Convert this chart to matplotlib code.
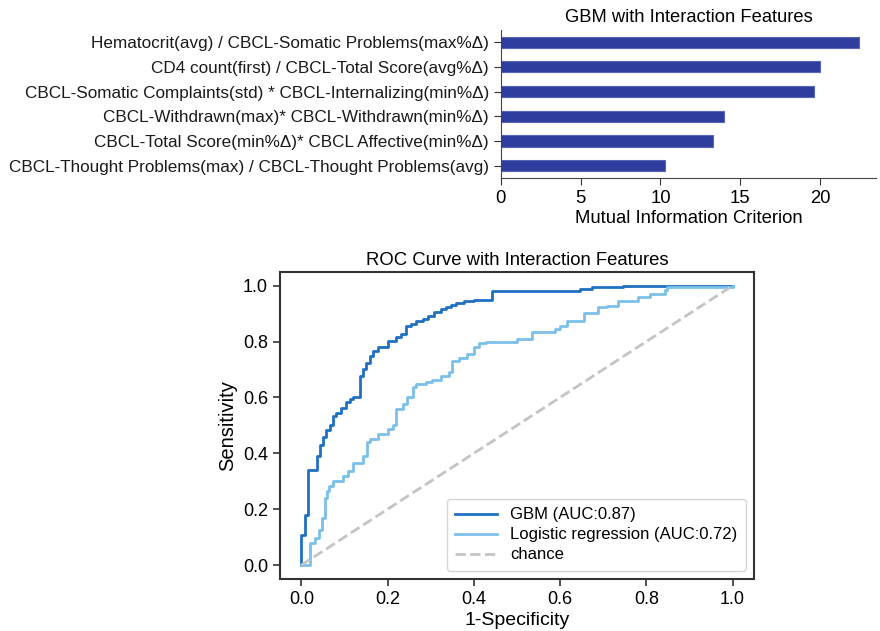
import matplotlib.pyplot as plt

plt.rcParams['font.family'] = ['Liberation Sans', 'DejaVu Sans']

# ---- top panel: mutual information of interaction features
features = [
    "Hematocrit(avg) / CBCL-Somatic Problems(max%\u0394)",
    "CD4 count(first) / CBCL-Total Score(avg%\u0394)",
    "CBCL-Somatic Complaints(std) * CBCL-Internalizing(min%\u0394)",
    "CBCL-Withdrawn(max)* CBCL-Withdrawn(min%\u0394)",
    "CBCL-Total Score(min%\u0394)* CBCL Affective(min%\u0394)",
    "CBCL-Thought Problems(max) / CBCL-Thought Problems(avg)",
]
mi_values = [22.4, 20.0, 19.6, 14.0, 13.3, 10.3]

# ---- bottom panel: ROC curves (step corners)
gbm_fpr = [0, 0, 0.008, 0.015, 0.037, 0.042, 0.050, 0.058, 0.066, 0.073, 0.081,
           0.092, 0.104, 0.112, 0.120, 0.135, 0.143, 0.150, 0.158, 0.166, 0.177,
           0.200, 0.220, 0.231, 0.243, 0.254, 0.266, 0.281, 0.293, 0.308, 0.323,
           0.335, 0.346, 0.358, 0.377, 0.400, 0.443, 0.645, 0.675, 0.745, 1.0]
gbm_tpr = [0, 0.106, 0.18, 0.34, 0.389, 0.43, 0.46, 0.485, 0.50, 0.534, 0.546,
           0.563, 0.582, 0.594, 0.60, 0.678, 0.70, 0.725, 0.749, 0.767, 0.779,
           0.803, 0.815, 0.827, 0.855, 0.863, 0.872, 0.881, 0.893, 0.905, 0.915,
           0.924, 0.93, 0.938, 0.945, 0.95, 0.98, 0.988, 0.995, 1.0, 1.0]

lr_fpr = [0, 0.019, 0.031, 0.040, 0.048, 0.054, 0.060, 0.065, 0.073, 0.096, 0.108,
          0.119, 0.142, 0.152, 0.158, 0.177, 0.200, 0.212, 0.219, 0.235, 0.246,
          0.258, 0.266, 0.289, 0.304, 0.323, 0.343, 0.350, 0.366, 0.385, 0.400,
          0.412, 0.427, 0.500, 0.535, 0.589, 0.600, 0.616, 0.656, 0.689, 0.708,
          0.735, 0.781, 0.808, 0.843, 0.848, 1.0]
lr_tpr = [0, 0.079, 0.096, 0.126, 0.168, 0.24, 0.264, 0.282, 0.30, 0.318, 0.336,
          0.366, 0.39, 0.44, 0.45, 0.468, 0.486, 0.50, 0.558, 0.576, 0.60,
          0.636, 0.647, 0.656, 0.663, 0.675, 0.69, 0.731, 0.74, 0.755, 0.779,
          0.795, 0.80, 0.809, 0.833, 0.845, 0.857, 0.875, 0.902, 0.923, 0.929,
          0.945, 0.959, 0.971, 0.983, 0.995, 1.0]

labels = ["GBM (AUC:0.87)", "Logistic regression (AUC:0.72)", "chance"]

fig = plt.figure(figsize=(8.8, 6.31), dpi=100)

# ----------------- bar chart -----------------
ax = fig.add_axes([0.569, 0.718, 0.427, 0.2345])
ypos = list(range(len(features)))[::-1]
ax.barh(ypos, mi_values, height=0.45, color='#2f3d9e', edgecolor='#5864b8', linewidth=0.8)
ax.set_yticks(ypos)
ax.set_yticklabels(features, fontsize=12.3, color='#1a1a1a')
ax.set_xticks([0, 5, 10, 15, 20])
ax.tick_params(axis='x', labelsize=13.3, length=5, color='#333333')
ax.tick_params(axis='y', length=5, color='#333333')
ax.set_xlabel("Mutual Information Criterion", fontsize=13.3, labelpad=2)
ax.set_title("GBM with Interaction Features", fontsize=13.2, pad=6)
ax.spines['top'].set_visible(False)
ax.spines['right'].set_visible(False)
for s in ['left', 'bottom']:
    ax.spines[s].set_color('#444444')

# ----------------- ROC curve -----------------
ax1 = fig.add_axes([0.318, 0.0824, 0.539, 0.487])
ax1.plot(gbm_fpr, gbm_tpr, drawstyle='steps-post', color='#1f70c1', lw=2, label=labels[0])
ax1.plot(lr_fpr, lr_tpr, drawstyle='steps-post', color='#7cc0ea', lw=2, label=labels[1])
ax1.plot([0, 1], [0, 1], color='#c4c4c4', lw=2, linestyle='--', label=labels[2])
ax1.set_xticks([0, 0.2, 0.4, 0.6, 0.8, 1.0])
ax1.set_yticks([0, 0.2, 0.4, 0.6, 0.8, 1.0])
ax1.tick_params(labelsize=13, length=5, width=1.2, color='#333333')
ax1.set_xlabel("1-Specificity", fontsize=14, labelpad=3)
ax1.set_ylabel("Sensitivity", fontsize=14.5, labelpad=4)
ax1.set_title("ROC Curve with Interaction Features", fontsize=13.3, pad=5)
for s in ax1.spines.values():
    s.set_color('#333333')
    s.set_linewidth(1.5)
ax1.legend(loc='lower right', fontsize=12, frameon=True, edgecolor='#cccccc',
           handlelength=2.5, labelspacing=0.3, borderpad=0.5)

fig.savefig("out.png", dpi=100)
